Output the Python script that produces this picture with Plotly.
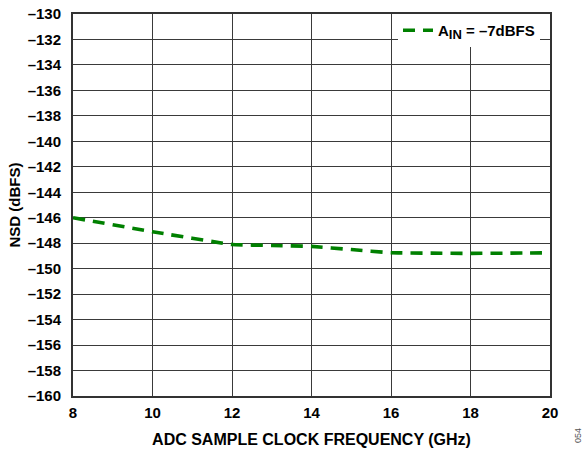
import plotly.graph_objects as go

freq_ghz = [8, 10, 12, 13, 14, 15, 16, 17, 18, 19, 20]
nsd_dbfs = [-146.0, -147.1, -148.1, -148.18, -148.25, -148.5, -148.75, -148.78, -148.8, -148.78, -148.75]
series_name = "A<sub><span style='font-size:13px'>IN</span></sub> = –7dBFS"

x_ticks = [8, 10, 12, 14, 16, 18, 20]
y_ticks = list(range(-160, -129, 2))
y_ticktext = ["–" + str(abs(v)) for v in y_ticks]

FONT = "Liberation Sans, Arial, sans-serif"
L, R, T, B = 73, 37, 14, 54
W, H = 587, 450
pw, ph = W - L - R, H - T - B

fig = go.Figure()
fig.add_trace(go.Scatter(
    x=freq_ghz, y=nsd_dbfs, mode="lines", name=series_name,
    line=dict(color="#008000", width=3.6, dash="12px,8px", shape="spline", smoothing=0.3),
))

fig.update_layout(
    width=W, height=H,
    margin=dict(l=L, r=R, t=T, b=B, autoexpand=False),
    paper_bgcolor="white", plot_bgcolor="white",
    font=dict(family=FONT, size=15, color="black"),
    showlegend=True,
    legend=dict(
        x=(398 - L) / pw, y=1, xanchor="left", yanchor="top",
        bgcolor="white", borderwidth=0,
        font=dict(family=FONT, size=15, color="black", weight="bold"),
        itemwidth=30, tracegroupgap=0,
    ),
    xaxis=dict(
        range=[8, 20], tickvals=x_ticks, ticktext=[str(v) for v in x_ticks],
        showgrid=True, gridcolor="#3a3a3a", gridwidth=1,
        showline=True, linecolor="#333333", linewidth=2, mirror=True,
        ticks="", zeroline=False, ticklabelstandoff=2,
        tickfont=dict(family=FONT, size=15, weight="bold"),
        title=dict(text="ADC SAMPLE CLOCK FREQUENCY (GHz)", standoff=14,
                   font=dict(family=FONT, size=16, weight="bold")),
    ),
    yaxis=dict(
        range=[-160, -130], tickvals=y_ticks, ticktext=y_ticktext,
        showgrid=True, gridcolor="#3a3a3a", gridwidth=1,
        showline=True, linecolor="#333333", linewidth=2, mirror=True,
        ticks="", zeroline=False, ticklabelstandoff=7,
        tickfont=dict(family=FONT, size=15, weight="bold"),
        title=dict(text="NSD (dBFS)", standoff=3,
                   font=dict(family=FONT, size=15, weight="bold")),
    ),
    annotations=[dict(
        text="054", x=(578 - L) / pw, y=-(436 - (H - B)) / ph, xref="paper", yref="paper",
        xanchor="center", yanchor="middle",
        showarrow=False, textangle=-90,
        font=dict(family=FONT, size=9, color="#555555"),
    )],
)

fig.write_html("out.html", config={"displayModeBar": False},
               post_script="document.body.style.margin='0px';document.body.style.overflow='hidden';")
